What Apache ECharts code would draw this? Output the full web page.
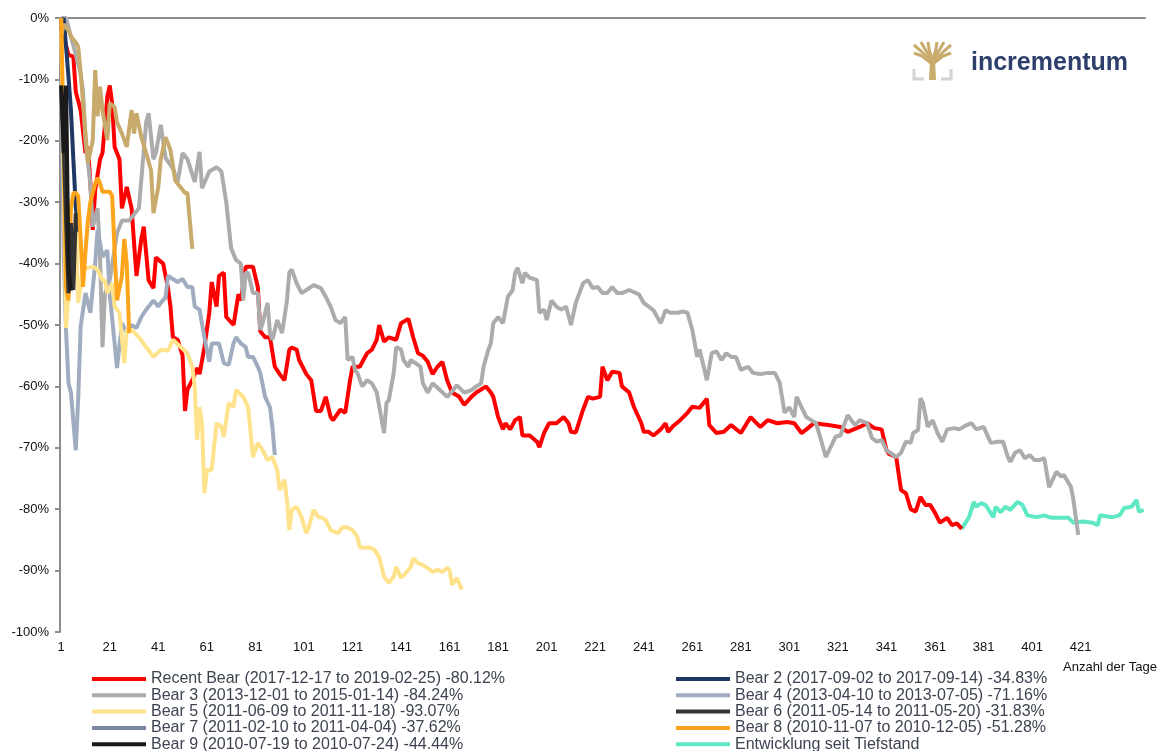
<!DOCTYPE html>
<html>
<head>
<meta charset="utf-8">
<title>Bitcoin Bärenmärkte im Vergleich</title>
<script src="https://cdn.jsdelivr.net/npm/echarts@6/dist/echarts.min.js"></script>
<style>
  html, body { margin: 0; padding: 0; background: #fff; }
  #chart { width: 1172px; height: 751px; }
</style>
</head>
<body>
<div id="chart"></div>
<script>
// Tage (1-basiert) und Verlust in % vom Hoch
const dayCount = 447
const dayLabels = Array.from({ length: dayCount }, (_, i) => String(i + 1))

const recentBear = [[1,-1.5],[2,-3],[4,-6],[6,-6.3],[7,-12],[9,-15],[11,-22],[12,-21],[13,-26.7],[14,-34.5],[15,-28],[17,-23],[18,-22],[20,-12.8],[21,-11],[22,-14],[23,-21],[25,-23],[26,-31],[28,-27.5],[30,-31],[32,-42],[34,-36],[35,-34],[37,-42.7],[39,-44],[40,-39],[43,-40],[45,-44],[46,-47],[47,-52],[49,-52.4],[51,-55],[52,-64],[53,-60.5],[55,-59],[57,-57],[58,-58],[60,-53.6],[62,-48],[63,-43],[65,-47],[66,-42],[68,-41.5],[69,-48.7],[72,-50],[74,-45],[75,-46],[77,-40.5],[80,-40.5],[82,-43.8],[83,-51],[85,-52],[87,-52],[89,-56.8],[91,-58],[93,-59],[95,-54],[96,-53.7],[98,-54],[99,-55.7],[102,-58],[104,-59],[106,-64],[108,-64],[110,-61.7],[112,-65],[113,-65.5],[116,-63.8],[118,-64.3],[120,-59],[121,-56.8],[124,-56.8],[127,-54.6],[129,-54],[131,-52.4],[132,-50],[134,-52.7],[136,-52],[139,-52.4],[141,-49.7],[144,-49],[146,-52],[148,-54.6],[150,-55],[152,-56],[154,-58],[156,-56.8],[158,-56],[160,-59],[162,-61],[165,-61.7],[167,-63],[170,-61.7],[172,-61],[176,-60],[178,-61],[179,-61.7],[181,-65],[183,-67],[184,-66],[186,-67],[188,-65.5],[190,-65],[191,-68],[194,-68],[197,-69],[198,-69.9],[200,-67.5],[202,-66],[205,-66],[208,-65],[210,-66],[211,-67.4],[213,-67.5],[216,-63.8],[218,-61.7],[220,-62],[223,-61.7],[224,-56.8],[226,-59],[228,-57.6],[231,-57.8],[232,-60],[235,-61],[237,-63.4],[240,-66],[241,-67.4],[243,-67.4],[245,-68],[248,-67],[250,-66],[251,-67.4],[253,-66.5],[256,-65.5],[259,-64.3],[261,-63.3],[264,-63.5],[267,-62],[268,-66.3],[271,-67.6],[274,-67.4],[277,-66.3],[281,-67.6],[285,-65],[289,-66.6],[292,-65.5],[296,-66],[300,-65.8],[303,-66],[306,-67.6],[308,-67],[311,-66],[317,-66.3],[322,-66.6],[325,-67.4],[330,-66.6],[333,-66],[336,-66.8],[339,-67],[341,-70.4],[342,-71],[345,-71.5],[347,-76.9],[349,-77.4],[351,-80],[353,-80.4],[355,-78],[357,-79.3],[359,-79.3],[361,-80.6],[363,-82.2],[366,-81.4],[368,-82.6],[370,-82.3],[372,-83.2]]
const sinceLow = [[372,-83.2],[375,-81.3],[377,-78.8],[378,-79.6],[380,-79],[382,-79.4],[385,-81.3],[386,-79.6],[388,-80.5],[390,-79.6],[392,-80.1],[395,-78.8],[397,-79.3],[399,-81],[403,-81.3],[406,-81],[408,-81.3],[410,-81.4],[416,-81.4],[418,-82.2],[422,-82],[426,-82.2],[428,-82.6],[429,-81],[434,-81.3],[437,-81],[439,-79.8],[442,-79.6],[444,-78.5],[445,-80.4],[447,-80.1]]
const bear2 = [[1,-1],[2,0],[3,-4.7],[4,-9.6],[5,-15],[6,-23],[7,-30.8],[8,-34.8]]
const bear3 = [[1,0],[3,0],[5,-3],[7,-6],[9,-9],[10,-12],[11,-20],[13,-27],[14,-34],[16,-31],[17,-39],[18,-53.6],[19,-45],[21,-42.7],[24,-35],[26,-33],[29,-33],[33,-31],[36,-17],[37,-15.5],[39,-23],[40,-22],[42,-17.4],[44,-22.8],[47,-24.5],[49,-26.7],[51,-22],[53,-23],[56,-26.7],[58,-21.8],[59,-27.7],[62,-25],[65,-24.3],[67,-25],[69,-30],[71,-37.5],[73,-39.4],[75,-40],[76,-46],[77,-41.5],[78,-41.5],[80,-44.8],[82,-44.8],[83,-50.8],[84,-49.7],[86,-46.4],[87,-51.3],[88,-52.4],[90,-49.2],[92,-51.3],[94,-46],[95,-41.4],[96,-41],[98,-43.2],[100,-44.8],[102,-44.3],[105,-43.5],[108,-44],[110,-45.4],[112,-47],[114,-49.2],[116,-49.7],[118,-48.7],[119,-55.7],[121,-55.2],[122,-57.3],[123,-57.8],[125,-60],[127,-59],[129,-59.5],[131,-61],[134,-67.6],[135,-62.7],[136,-62.2],[138,-57.8],[139,-53.6],[141,-54],[142,-55.7],[144,-56.8],[145,-55.7],[147,-56.2],[149,-56.8],[150,-59.5],[152,-61],[154,-59.5],[157,-60.6],[160,-61.7],[162,-60.8],[164,-59.8],[167,-61],[170,-60.6],[172,-60],[174,-59.5],[175,-56.8],[177,-54],[178,-53],[179,-49.7],[181,-48.7],[183,-49.7],[185,-45.4],[187,-44.3],[188,-41.5],[189,-40.7],[191,-43.2],[192,-41.5],[194,-42.3],[197,-42.7],[198,-48],[200,-47.5],[201,-49.2],[203,-46],[205,-47],[207,-47.5],[209,-47],[211,-50],[213,-46.4],[216,-43.2],[218,-42.7],[220,-44],[222,-43.8],[224,-44.8],[226,-44.8],[228,-43.8],[230,-44.8],[232,-44.8],[235,-44.3],[239,-45],[241,-46.4],[245,-47.6],[248,-49.7],[250,-47.6],[252,-48],[255,-48],[257,-47.8],[259,-48],[261,-50.8],[263,-55.2],[264,-54],[267,-59],[269,-54.6],[271,-54.3],[273,-55.7],[275,-54.6],[277,-55.2],[279,-55.2],[281,-57.3],[284,-56.8],[286,-57.8],[289,-58],[292,-57.8],[295,-57.8],[297,-59.4],[299,-64.3],[301,-63.4],[303,-65],[304,-61.7],[306,-63.4],[308,-65],[310,-65.5],[312,-66],[314,-68.7],[316,-71.5],[318,-69.9],[320,-68.2],[322,-68],[325,-64.7],[328,-66.3],[330,-65.5],[333,-66],[335,-68.4],[337,-69],[339,-68.7],[341,-70.4],[345,-71.5],[347,-70.8],[349,-69],[351,-69.2],[352,-67.6],[354,-67.1],[355,-61.9],[356,-62.7],[358,-66.6],[360,-65.5],[362,-67.6],[364,-69],[366,-67],[369,-66.8],[371,-67],[374,-66.3],[376,-66],[378,-67],[381,-66.6],[384,-69.2],[387,-69],[389,-69],[391,-71.5],[392,-72.3],[394,-70.8],[396,-70.4],[398,-71.7],[400,-71.2],[402,-72],[404,-72],[406,-71.7],[408,-76.4],[411,-73.9],[413,-74.7],[414,-74.4],[417,-76.4],[418,-78.5],[420,-84.2]]
const bear4 = [[1,-10],[2,-38],[3,-51],[4,-59.5],[5,-61],[7,-70.4],[8,-62],[9,-50.3],[11,-44.8],[13,-48],[15,-40],[16,-34.5],[18,-38.9],[20,-37.8],[21,-45],[24,-57],[26,-49.7],[28,-51.3],[30,-50],[32,-50.5],[34,-48.7],[36,-47.5],[39,-46],[41,-47],[42,-46.4],[44,-45.5],[45,-42],[47,-42.5],[49,-43],[51,-42.5],[53,-43.8],[55,-43.8],[56,-47],[58,-47.5],[60,-52],[62,-56],[63,-53],[66,-53],[68,-56.2],[70,-56.5],[72,-53],[73,-52],[75,-53],[77,-53.6],[78,-55.2],[80,-55.2],[82,-56.8],[83,-57.8],[85,-61.7],[87,-63.4],[88,-66.6],[89,-71.2]]
const bear5 = [[1,-2],[2,-25],[3,-50.5],[4,-45],[5,-39],[6,-34],[7,-33],[8,-46.4],[10,-41],[12,-40.7],[14,-40.5],[16,-41],[18,-42.7],[19,-42.7],[20,-44.8],[22,-43.2],[23,-47],[25,-48],[27,-56.2],[28,-50.8],[30,-50.8],[33,-52],[36,-53.6],[39,-55.2],[42,-54],[45,-54.2],[47,-52.4],[50,-53.5],[53,-54.6],[55,-56.8],[56,-60],[57,-68.7],[58,-63.4],[59,-66],[60,-77.4],[61,-73.6],[63,-73.6],[65,-66],[67,-66.6],[68,-68.2],[70,-62.7],[72,-63.4],[73,-60.6],[76,-61.7],[78,-63.4],[80,-71.5],[82,-69.2],[84,-70.4],[86,-72],[88,-71.5],[90,-73.6],[91,-76.9],[93,-75.2],[94,-78.5],[95,-83.4],[96,-80.1],[98,-79.6],[100,-81.3],[102,-83.9],[103,-82.9],[105,-80.1],[107,-81.3],[108,-81.3],[110,-81.8],[112,-83.4],[115,-83.9],[117,-82.9],[119,-83],[121,-83.4],[123,-84.5],[124,-86.2],[126,-86.3],[128,-86.2],[130,-86.6],[132,-87.8],[134,-91],[136,-92],[138,-91],[139,-89.4],[141,-91.2],[143,-90.4],[145,-89.4],[146,-88],[148,-88.8],[150,-89.1],[152,-89.6],[154,-90.2],[156,-89.9],[158,-90.2],[160,-89.6],[161,-89.9],[162,-92.3],[164,-91.2],[166,-93.1]]
const bear6 = [[1,-11],[2,-20],[3,-33],[4,-44.8],[5,-33.4],[6,-44.3],[7,-31.8]]
const bear7 = [[1,-3],[2,-1],[4,-2],[5,-3],[7,-4],[8,-4.7],[9,-9],[11,-18.8],[12,-23.6],[14,-20],[15,-8.5],[16,-16],[17,-11.2],[18,-15],[20,-19.9],[21,-13.9],[23,-14.5],[24,-17],[26,-18.8],[28,-21],[30,-15],[31,-18.8],[32,-15.5],[34,-19.4],[36,-22],[38,-24.8],[39,-31.8],[41,-27.5],[42,-23],[44,-19.4],[46,-21.5],[48,-26.5],[50,-27.5],[52,-28.5],[53,-28.5],[55,-37.6]]
const bear8 = [[1,0],[2,-20],[3,-44],[4,-46],[5,-31],[6,-28.5],[7,-28.5],[8,-29],[9,-36],[10,-43.8],[11,-38],[12,-33],[13,-30],[14,-28.5],[15,-27],[16,-26],[17,-27],[18,-28.3],[19,-28.3],[20,-28.3],[21,-28.3],[22,-29],[23,-38],[24,-46],[25,-44],[26,-42],[27,-36],[28,-40],[29,-51.3]]
const bear9 = [[1,-11],[2,-22],[3,-11],[4,-40.5],[5,-44.4]]

const names = {
  recent: 'Recent Bear (2017-12-17 to 2019-02-25) -80.12%',
  b2: 'Bear 2 (2017-09-02 to 2017-09-14) -34.83%',
  b3: 'Bear 3 (2013-12-01 to 2015-01-14) -84.24%',
  b4: 'Bear 4 (2013-04-10 to 2013-07-05) -71.16%',
  b5: 'Bear 5 (2011-06-09 to 2011-11-18) -93.07%',
  b6: 'Bear 6 (2011-05-14 to 2011-05-20) -31.83%',
  b7: 'Bear 7 (2011-02-10 to 2011-04-04) -37.62%',
  b8: 'Bear 8 (2010-11-07 to 2010-12-05) -51.28%',
  b9: 'Bear 9 (2010-07-19 to 2010-07-24) -44.44%',
  low: 'Entwicklung seit Tiefstand'
}

const chart = echarts.init(document.getElementById('chart'))

function lineSeries(name, pairs, color) {
  return {
    name,
    type: 'line',
    data: pairs.map(p => [p[0] - 1, p[1]]),
    symbol: 'none',
    showSymbol: false,
    lineStyle: { color, width: 4 },
    itemStyle: { color }
  }
}

const legendText = { fontSize: 16, color: '#3d4450', fontFamily: 'Liberation Sans, Arial', lineHeight: 16 }
const legendBase = {
  orient: 'vertical',
  top: 671,
  height: 90,
  padding: 0,
  icon: 'rect',
  itemWidth: 54,
  itemHeight: 4,
  itemGap: 0.3,
  selectedMode: false,
  textStyle: legendText
}
const gold = '#c9ab6b'
const logoBranches = [
  [[931, 63], [922, 56], [914, 53]],
  [[931, 61], [921, 51], [914, 45]],
  [[932, 60], [925, 49], [921, 42]],
  [[932, 59], [929, 49], [928, 42]],
  [[933, 59], [936, 49], [937, 42]],
  [[933, 60], [940, 49], [944, 42]],
  [[934, 61], [944, 51], [951, 45]],
  [[934, 63], [943, 56], [951, 53]]
]

chart.setOption({
  animation: false,
  grid: { left: 60, right: 27, top: 18, bottom: 119 },
  xAxis: [
    {
      type: 'category',
      data: dayLabels,
      boundaryGap: true,
      axisLine: { show: false },
      axisTick: { show: false },
      axisLabel: {
        interval: (index) => index % 20 === 0 && index <= 420,
        color: '#111',
        fontSize: 13,
        fontFamily: 'Liberation Sans, Arial',
        margin: 9
      }
    },
    {
      type: 'category',
      data: dayLabels,
      position: 'top',
      axisLine: { show: true, onZero: false, lineStyle: { color: '#8c8c8c', width: 2 } },
      axisTick: { show: false },
      axisLabel: { show: false }
    }
  ],
  yAxis: {
    type: 'value',
    min: -100,
    max: 0,
    interval: 10,
    axisLine: { show: true, lineStyle: { color: '#8c8c8c', width: 2 } },
    axisTick: { show: true, length: 5, lineStyle: { color: '#8c8c8c', width: 2 } },
    splitLine: { show: false },
    axisLabel: {
      formatter: (v) => v + '%',
      color: '#111',
      fontSize: 13,
      fontFamily: 'Liberation Sans, Arial',
      margin: 11
    }
  },
  legend: [
    Object.assign({}, legendBase, {
      left: 92,
      data: [names.recent, names.b3, names.b5, { name: names.b7, itemStyle: { color: '#7b86a0' } }, names.b9]
    }),
    Object.assign({}, legendBase, {
      left: 676,
      data: [names.b2, names.b4, names.b6, names.b8, names.low]
    })
  ],
  graphic: [
    {
      type: 'text',
      left: 1063,
      top: 661,
      style: { text: 'Anzahl der Tage', fontSize: 13, fill: '#111', fontFamily: 'Liberation Sans, Arial' }
    },
    {
      type: 'text',
      x: 971,
      y: 63,
      style: {
        text: 'incrementum',
        fontSize: 25,
        fontWeight: 'bold',
        fill: '#2f3f6c',
        fontFamily: 'Liberation Sans, Arial',
        verticalAlign: 'middle'
      }
    },
    {
      type: 'polygon',
      shape: { points: [[929, 80], [936, 80], [935, 60], [930, 60]] },
      style: { fill: gold }
    },
    ...logoBranches.map(pts => ({
      type: 'polyline',
      shape: { points: pts },
      style: { stroke: gold, lineWidth: 3, fill: null }
    })),
    {
      type: 'polyline',
      shape: { points: [[914, 69], [914, 79], [924, 79]] },
      style: { stroke: '#d3d3d3', lineWidth: 3, fill: null }
    },
    {
      type: 'polyline',
      shape: { points: [[951, 69], [951, 79], [941, 79]] },
      style: { stroke: '#d3d3d3', lineWidth: 3, fill: null }
    }
  ],
  series: [
    lineSeries(names.low, sinceLow, '#5fe8c4'),
    lineSeries(names.recent, recentBear, '#ff0000'),
    lineSeries(names.b3, bear3, '#acacac'),
    lineSeries(names.b4, bear4, '#a0acc0'),
    lineSeries(names.b5, bear5, '#ffe38c'),
    lineSeries(names.b2, bear2, '#1f3864'),
    lineSeries(names.b7, bear7, '#c8aa6c'),
    lineSeries(names.b8, bear8, '#ffa51c'),
    lineSeries(names.b6, bear6, '#333333'),
    lineSeries(names.b9, bear9, '#1a1a1a')
  ]
})
</script>
</body>
</html>
